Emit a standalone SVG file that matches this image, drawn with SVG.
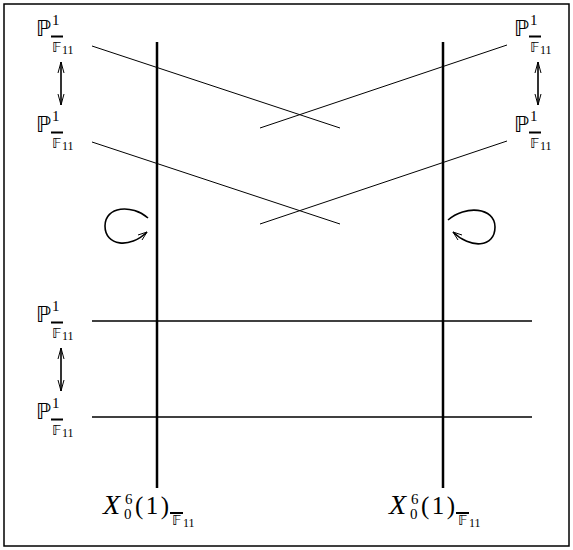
<svg xmlns="http://www.w3.org/2000/svg" width="573" height="550" viewBox="0 0 573 550">
<style>
.bb{font-family:"DejaVu Sans","Noto Sans",sans-serif;fill:#000}
.rm{font-family:"Liberation Serif",serif;fill:#000}
.it{font-family:"Liberation Serif",serif;font-style:italic;fill:#000}
.thin{stroke:#000;stroke-width:1;fill:none}
.thick{stroke:#000;stroke-width:2.5;fill:none}
.mid{stroke:#000;stroke-width:1.6;fill:none}
.head{stroke:#000;stroke-width:1;fill:none}
</style>
<defs>
<g id="P">
<text class="bb" x="0" y="0" font-size="22">ℙ</text>
<text class="rm" x="16" y="-11" font-size="15">1</text>
<rect x="15" y="-0.5" width="12" height="2" fill="#000"/>
<text class="bb" x="16" y="16" font-size="14">𝔽</text>
<text class="rm" x="26" y="18" font-size="12">11</text>
</g>
<g id="X">
<text class="it" x="-1" y="0" font-size="28">X</text>
<text class="rm" x="21" y="-10" font-size="15">6</text>
<text class="rm" x="20" y="5" font-size="15">0</text>
<text class="rm" x="31" y="0" font-size="25" textLength="34" lengthAdjust="spacing">(1)</text>
<rect x="66" y="-2" width="13" height="2" fill="#000"/>
<text class="bb" x="68" y="11" font-size="14">𝔽</text>
<text class="rm" x="79" y="13" font-size="12">11</text>
</g>
</defs>
<rect x="4" y="4" width="565" height="542" fill="none" stroke="#000" stroke-width="1.5"/>
<g id="connectors">
<line class="thick" x1="157" y1="42" x2="157" y2="488"/>
<line class="thick" x1="443" y1="42" x2="443" y2="488"/>
<line class="thin" x1="92" y1="46" x2="340" y2="128"/>
<line class="thin" x1="507" y1="45" x2="260" y2="128"/>
<line class="thin" x1="92" y1="142" x2="340" y2="224"/>
<line class="thin" x1="507" y1="141" x2="260" y2="224"/>
<line class="mid" x1="92" y1="321" x2="532" y2="321"/>
<line class="mid" x1="92" y1="417" x2="532" y2="417"/>
<g>
<line class="mid" x1="61" y1="62" x2="61" y2="105"/>
<path class="head" d="M58,73 L61,62 L64,73 M58,94 L61,105 L64,94"/>
<line class="mid" x1="538" y1="62" x2="538" y2="105"/>
<path class="head" d="M535,73 L538,62 L541,73 M535,94 L538,105 L541,94"/>
<line class="mid" x1="61" y1="348" x2="61" y2="391"/>
<path class="head" d="M58,359 L61,348 L64,359 M58,380 L61,391 L64,380"/>
</g>
<path class="mid" d="M148,218 C132,204 105,206 105,226 C105,246 130,249 147,232"/>
<path class="head" d="M147,232 L138,235 M147,232 L142,240"/>
<path class="mid" d="M448,220 C465,205 495,207 495,227 C495,248 470,249 453,232"/>
<path class="head" d="M453,232 L462,235 M453,232 L458,240"/>
</g>
<g id="n1"><use href="#P" transform="translate(36,36)"/></g>
<g id="n2"><use href="#P" transform="translate(36,132)"/></g>
<g id="n3"><use href="#P" transform="translate(514,36)"/></g>
<g id="n4"><use href="#P" transform="translate(514,132)"/></g>
<g id="n5"><use href="#P" transform="translate(36,322)"/></g>
<g id="n6"><use href="#P" transform="translate(36,419)"/></g>
<g id="n7"><use href="#X" transform="translate(104,514)"/></g>
<g id="n8"><use href="#X" transform="translate(390,514)"/></g>
</svg>
